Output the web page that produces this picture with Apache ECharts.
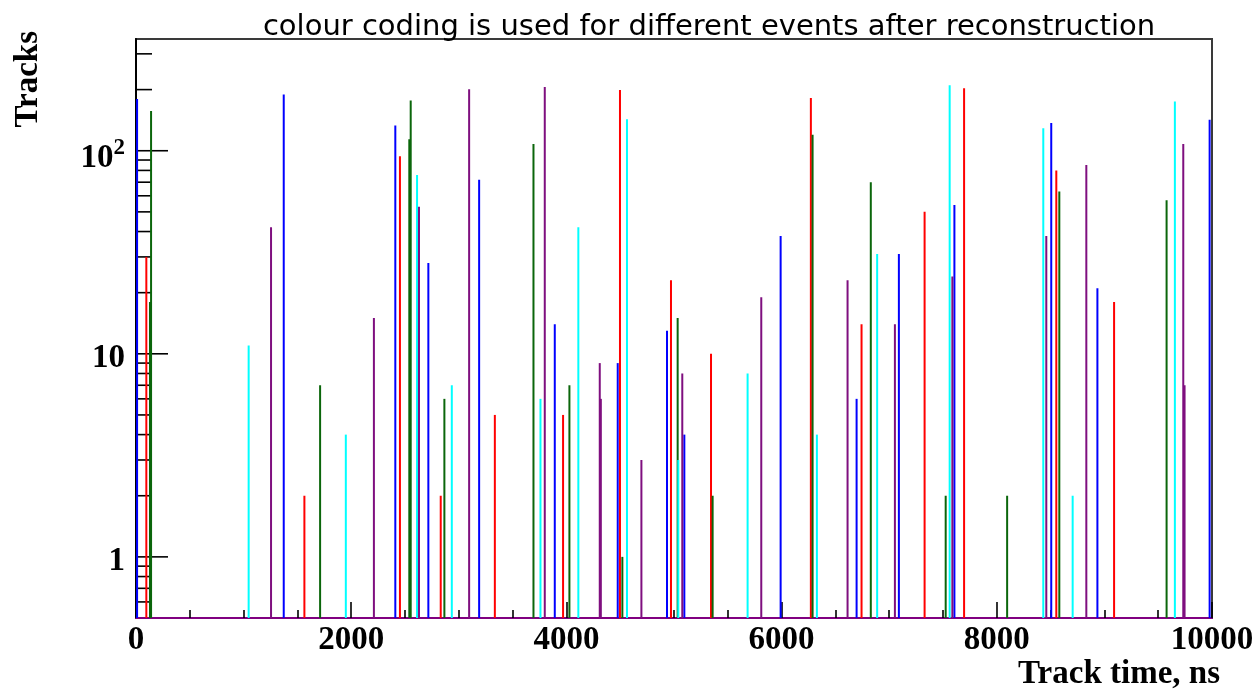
<!DOCTYPE html>
<html>
<head>
<meta charset="utf-8">
<script src="https://cdn.jsdelivr.net/npm/echarts@6/dist/echarts.min.js"></script>
<style>
  html, body { margin: 0; padding: 0; background: #fff; }
  #chart { width: 1257px; height: 690px; }
</style>
</head>
<body>
<div id="chart"></div>
<script>
// Track time (ns) and number of tracks for each reconstructed event group
const blueEvents = [
  [10, 180], [1373, 189], [2410, 133], [2717, 28], [3189, 72], [3892, 14],
  [4477, 9], [4935, 13], [5096, 4], [5991, 38], [6697, 6], [7090, 31],
  [7606, 54], [8506, 137], [8935, 21], [9978, 142]
];
const redEvents = [
  [96, 30], [1565, 2], [2453, 94], [2832, 2], [3335, 5], [3969, 5],
  [4498, 199], [4972, 23], [5344, 10], [6272, 182], [6743, 14], [7329, 50],
  [7696, 203], [8553, 80], [9090, 18]
];
const greenEvents = [
  [130, 18], [140, 157], [1711, 7], [2540, 114], [2553, 177], [2866, 6],
  [3694, 108], [4028, 7], [4520, 1], [5034, 15], [5359, 2], [6288, 120],
  [6829, 70], [7525, 2], [8096, 2], [8581, 63], [9578, 57]
];
const cyanEvents = [
  [1047, 11], [1950, 4], [2612, 76], [2935, 7], [3759, 6], [4111, 42],
  [4563, 143], [5040, 3], [5684, 8], [6328, 4], [6888, 31], [7562, 210],
  [8432, 129], [8705, 2], [9655, 175]
];
const purpleEvents = [
  [1255, 42], [2211, 15], [2630, 53], [3096, 201], [3799, 206], [4310, 9],
  [4320, 6], [4697, 3], [5077, 8], [5811, 19], [6613, 23], [7053, 14],
  [7587, 24], [8460, 38], [8832, 85], [9733, 108], [9745, 7]
];

// Axis ranges and tick positions
const X_MIN = 0, X_MAX = 10000, X_STEP = 2000;
const Y_MIN = 0.5, Y_MAX = 355;
const yTickValues = [0.6, 0.7, 0.8, 0.9, 1, 2, 3, 4, 5, 6, 7, 8, 9,
  10, 20, 30, 40, 50, 60, 70, 80, 90, 100, 200, 300];

const SERIF = '"Liberation Serif", "DejaVu Serif", serif';

function isDecade(v) {
  const l = Math.log10(v);
  return Math.abs(l - Math.round(l)) < 1e-6;
}

// One vertical line per filled bin, from the bottom of the log axis up to the count
function renderSpike(params, api) {
  const t = api.value(0);
  const top = api.coord([t, api.value(1)]);
  const base = api.coord([t, Y_MIN]);
  return {
    type: 'line',
    shape: { x1: top[0], y1: top[1], x2: base[0], y2: base[1] },
    style: { stroke: api.visual('color'), lineWidth: 2 }
  };
}

// Log-axis tick marks pointing into the frame (decades longer)
function renderYTick(params, api) {
  const v = api.value(1);
  const p = api.coord([X_MIN, v]);
  const len = isDecade(v) ? 32 : 16;
  return {
    type: 'line',
    shape: { x1: p[0], y1: p[1], x2: p[0] + len, y2: p[1] },
    style: { stroke: '#000', lineWidth: 1.6 }
  };
}

function spikeSeries(name, color, data) {
  return {
    name: name,
    type: 'custom',
    coordinateSystem: 'cartesian2d',
    renderItem: renderSpike,
    itemStyle: { color: color },
    encode: { x: 0, y: 1 },
    silent: true,
    data: data
  };
}

const chart = echarts.init(document.getElementById('chart'), null, { renderer: 'canvas' });

chart.setOption({
  animation: false,
  backgroundColor: '#fff',
  title: {
    text: 'colour coding is used for different events after reconstruction',
    left: 704,
    top: 8,
    textAlign: 'center',
    textStyle: {
      fontFamily: '"DejaVu Sans", sans-serif',
      fontWeight: 'normal',
      fontSize: 29,
      color: '#000'
    }
  },
  grid: {
    left: 136, right: 45, top: 39, bottom: 72,
    show: true,
    borderColor: '#3a3a3a',
    borderWidth: 2,
    backgroundColor: 'transparent',
    containLabel: false,
    outerBoundsMode: 'none'
  },
  xAxis: {
    type: 'value',
    min: X_MIN, max: X_MAX, interval: X_STEP,
    axisLine: { show: true, onZero: false, lineStyle: { color: '#800080', width: 2 } },
    axisTick: { show: true, inside: true, length: 16, lineStyle: { color: '#000', width: 1.6 } },
    minorTick: { show: true, splitNumber: 4, length: 8, lineStyle: { color: '#000', width: 1.6 } },
    splitLine: { show: false },
    axisLabel: {
      margin: 6,
      fontFamily: SERIF, fontWeight: 'bold', fontSize: 33, color: '#000',
      formatter: function (v) { return String(Math.round(v)); }
    }
  },
  yAxis: {
    type: 'log',
    logBase: 10,
    min: Y_MIN, max: Y_MAX,
    splitNumber: 3,
    axisLine: { show: true, lineStyle: { color: '#000', width: 2 } },
    axisTick: { show: false },
    splitLine: { show: false },
    axisLabel: {
      margin: 11,
      showMinLabel: false,
      showMaxLabel: false,
      padding: [10, 0, 0, 0],
      fontFamily: SERIF, fontWeight: 'bold', fontSize: 33, color: '#000',
      formatter: function (v) {
        if (!isDecade(v)) return '';
        const e = Math.round(Math.log10(v));
        if (e <= 1) return '{b|' + Math.round(v) + '}';
        return '{bb|10}{s|' + e + '}';
      },
      rich: {
        b: { fontFamily: SERIF, fontWeight: 'bold', fontSize: 33, color: '#000' },
        bb: { fontFamily: SERIF, fontWeight: 'bold', fontSize: 33, color: '#000', padding: [5, 0, 0, 0] },
        s: { fontFamily: SERIF, fontWeight: 'bold', fontSize: 23, color: '#000', verticalAlign: 'top' }
      }
    }
  },
  graphic: [
    {
      type: 'text',
      x: 28, y: 31,
      rotation: Math.PI / 2,
      style: {
        text: 'Tracks',
        fontFamily: SERIF, fontWeight: 'bold', fontSize: 33, fill: '#000',
        textAlign: 'right', textVerticalAlign: 'middle'
      }
    },
    {
      type: 'text',
      x: 1220, y: 674,
      style: {
        text: 'Track time, ns',
        fontFamily: SERIF, fontWeight: 'bold', fontSize: 33, fill: '#000',
        textAlign: 'right', textVerticalAlign: 'middle'
      }
    }
  ],
  series: [
    {
      name: 'yTicks',
      type: 'custom',
      coordinateSystem: 'cartesian2d',
      renderItem: renderYTick,
      encode: { x: 0, y: 1 },
      silent: true,
      z: 1,
      data: yTickValues.map(function (v) { return [X_MIN, v]; })
    },
    spikeSeries('blue', '#0000ff', blueEvents),
    spikeSeries('red', '#ff0000', redEvents),
    spikeSeries('green', '#0b660b', greenEvents),
    spikeSeries('cyan', '#00ffff', cyanEvents),
    spikeSeries('purple', '#7f0f7f', purpleEvents)
  ]
});
</script>
</body>
</html>
